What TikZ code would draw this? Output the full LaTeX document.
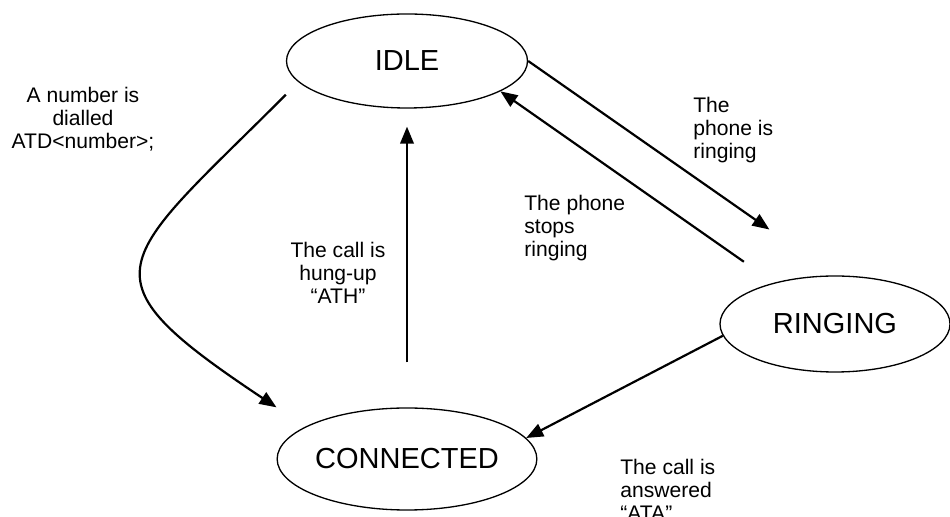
\documentclass[tikz,border=0pt]{standalone}
\usepackage{fontspec}
\setmainfont{Liberation Sans}
\usetikzlibrary{shapes.geometric, arrows.meta}

\begin{document}
\begin{tikzpicture}[
  state/.style={draw, ellipse, line width=0.75pt, inner sep=0pt, font=\fontsize{16.5}{20}\selectfont},
  arr/.style={line width=1.25pt, -{Triangle[length=0.34cm, width=0.27cm]}},
  note/.style={inner sep=0pt, font=\fontsize{12}{13.2}\selectfont}
]
  \useasboundingbox (0, 0) rectangle (19, 10.34);

  % states
  \node[state, minimum width=4.82cm, minimum height=1.88cm] (idle) at (8.14, 9.12) {IDLE};
  \node[state, minimum width=4.82cm, minimum height=2.04cm] (conn) at (8.14, 1.16) {CONNECTED};
  \node[state, minimum width=4.6cm, minimum height=1.92cm] (ring) at (16.7, 3.86) {RINGING};

  % transitions
  \draw[arr] (idle.west |- idle.south west) .. controls +(-3.4, -3.4) and +(-4, 2.66) .. (conn.west |- conn.north);
  \draw[arr, shorten <=0.9cm, shorten >=0.36cm] (conn.north) -- (idle.south);
  \draw[arr, shorten >=1.6cm] (idle.east) -- (ring.north);
  \draw[arr, shorten <=0.73cm] (ring.146) -- (idle.-18);
  \draw[arr] (ring.186) -- (conn.10);

  % labels
  \node[note, align=center] (dialled) at (1.66, 7.96) {A number is\\dialled\\ATD<number>;};
  \node[note, align=left, anchor=west] (rings) at (13.86, 7.74) {The\\phone is\\ringing};
  \node[note, align=left, anchor=west] (stops) at (10.48, 5.78) {The phone\\stops\\ringing};
  \node[note, align=center] (hung) at (6.76, 4.88) {The call is\\hung-up\\“ATH”};
  \node[note, align=left, anchor=west] (answered) at (12.4, 0.54) {The call is\\answered\\“ATA”};
\end{tikzpicture}
\end{document}
